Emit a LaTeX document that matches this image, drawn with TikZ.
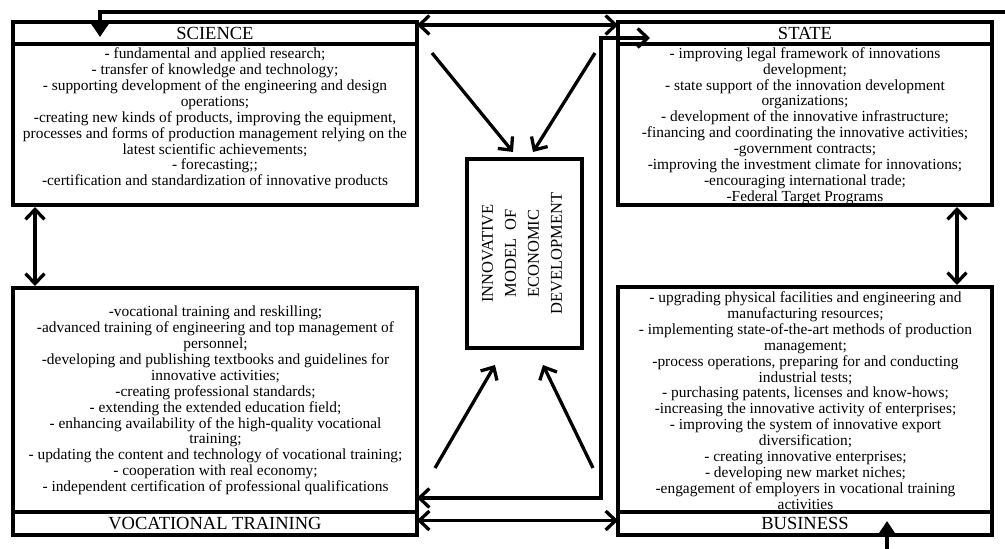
\documentclass[tikz,border=0pt]{standalone}
\usepackage{fontspec}
\setmainfont{Liberation Serif}
\usetikzlibrary{arrows.meta,calc}
\begin{document}
\begin{tikzpicture}[x=1pt,y=-1pt,
  frame/.style={draw,line width=3.5pt,inner sep=0pt,outer sep=0pt,anchor=north west},
  headtxt/.style={font=\fontsize{18.5}{20}\selectfont},
  bodytxt/.style={align=center,inner sep=0pt,font=\fontsize{15.4}{15.9}\selectfont},
  conn/.style={line width=3.3pt},
  >={Straight Barb[length=10pt,width=19pt]}
]
\useasboundingbox (0,0) rectangle (1005,549);
\fill[white] (0,0) rectangle (1005,549);

% boxes
\node[frame,minimum width=404pt,minimum height=22pt,headtxt] (scihead) at (13,22) {SCIENCE};
\node[frame,minimum width=404pt,minimum height=161pt] (scibody) at (13,44) {};
\node[frame,minimum width=374pt,minimum height=22pt,headtxt] (sthead) at (618,22) {STATE};
\node[frame,minimum width=374pt,minimum height=161pt] (stbody) at (618,44) {};
\node[frame,minimum width=404pt,minimum height=224pt] (vocbody) at (13,288) {};
\node[frame,minimum width=404pt,minimum height=23pt,headtxt] (vochead) at (13,512) {VOCATIONAL TRAINING};
\node[frame,minimum width=374pt,minimum height=225pt] (busbody) at (618,287) {};
\node[frame,minimum width=374pt,minimum height=23pt,headtxt] (bushead) at (618,512) {BUSINESS};
\node[frame,minimum width=115pt,minimum height=189pt] (imed) at (467,159) {};
\node[rotate=90,align=center,inner sep=0pt,font=\fontsize{16.5}{23}\selectfont] (imedtxt) at (522,253.5)
  {INNOVATIVE\\MODEL\hspace{4pt} OF\\ECONOMIC\\DEVELOPMENT};

% texts
\node[bodytxt] (scitxt) at (215,118.5) {- fundamental and applied research;\\
- transfer of knowledge and technology;\\
- supporting development of the engineering and design\\
operations;\\
-creating new kinds of products, improving the equipment,\\
processes and forms of production management relying on the\\
latest scientific achievements;\\
- forecasting;;\\
-certification and standardization of innovative products};

\node[bodytxt] (sttxt) at (805,126) {- improving legal framework of innovations\\
development;\\
- state support of the innovation development\\
organizations;\\
- development of the innovative infrastructure;\\
-financing and coordinating the innovative activities;\\
-government contracts;\\
-improving the investment climate for innovations;\\
-encouraging international trade;\\
-Federal Target Programs};

\node[bodytxt] (voctxt) at (215.5,400.5) {-vocational training and reskilling;\\
-advanced training of engineering and top management of\\
personnel;\\
-developing and publishing textbooks and guidelines for\\
innovative activities;\\
-creating professional standards;\\
- extending the extended education field;\\
- enhancing availability of the high-quality vocational\\
training;\\
- updating the content and technology of vocational training;\\
- cooperation with real economy;\\
- independent certification of professional qualifications};

\node[bodytxt] (bustxt) at (805.5,400.5) {- upgrading physical facilities and engineering and\\
manufacturing resources;\\
- implementing state-of-the-art methods of production\\
management;\\
-process operations, preparing for and conducting\\
industrial tests;\\
- purchasing patents, licenses and know-hows;\\
-increasing the innovative activity of enterprises;\\
- improving the system of innovative export\\
diversification;\\
- creating innovative enterprises;\\
- developing new market niches;\\
-engagement of employers in vocational training\\
activities};

% connectors
\coordinate (topin) at (1005,12);
\coordinate (scitip) at ($(scihead.north west)+(87,15)$);
\draw[conn,-{Triangle[width=18pt,length=14pt]}] (topin) -| (scitip);

\draw[conn,<->] ($(scihead.north east)+(0,3)$) -- ($(sthead.north west)+(0,3)$);

\coordinate (jx) at (601,0);
\coordinate (v1) at ($(vocbody.south east)+(0,-14)$);
\coordinate (s1) at ($(sthead.north west)+(32,16)$);
\draw[conn,<->] (v1) -- (v1 -| jx) |- (s1);

\draw[conn,<->] ($(vochead.east)+(0,-3)$) -- ($(bushead.west)+(0,-3)$);

\coordinate (botin) at (887,549);
\coordinate (b1) at ($(bushead.north west)+(269,9)$);
\draw[conn,-{Triangle[width=15pt,length=12pt]}] (botin) -- (b1);

\draw[conn,<->] ($(scibody.south west)+(22,2)$) -- ($(vocbody.north west)+(22,-2)$);
\draw[conn,<->] ($(stbody.south east)+(-35,2)$) -- ($(busbody.north east)+(-35,-2)$);

\draw[conn,->] ($(scibody.north east)+(15,9)$) -- ($(imed.north west)+(46,-7)$);
\draw[conn,->] ($(stbody.north west)+(-23,9)$) -- ($(imed.north west)+(66,-7)$);
\draw[conn,->] ($(vocbody.north east)+(18,180)$) -- ($(imed.south west)+(28,17)$);
\draw[conn,->] ($(busbody.north west)+(-25,181)$) -- ($(imed.south west)+(76,17)$);
\end{tikzpicture}
\end{document}
